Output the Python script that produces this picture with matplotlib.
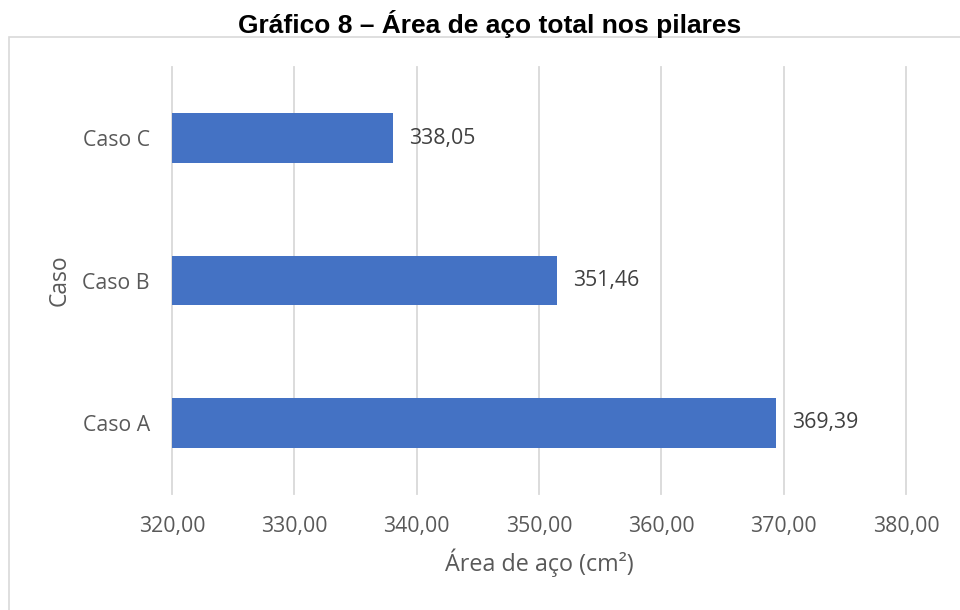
import matplotlib.pyplot as plt
from matplotlib.patches import Rectangle

casos = ["Caso A", "Caso B", "Caso C"]
area_aco = [369.39, 351.46, 338.05]
rotulos = ["369,39", "351,46", "338,05"]
xticks = [320, 330, 340, 350, 360, 370, 380]
xtick_labels = ["320,00", "330,00", "340,00", "350,00", "360,00", "370,00", "380,00"]

plt.rcParams['font.family'] = ['Open Sans', 'DejaVu Sans']
cinza = '#595959'

fig = plt.figure(figsize=(9.6, 6.1), dpi=100)
ax = fig.add_axes([172/960, 1 - 494/610, (906 - 172)/960, (494 - 67)/610])

# moldura do gráfico (cortada à direita e embaixo)
fig.patches.append(Rectangle((9/960, -0.1), 1.2, 1 - 37/610 + 0.1,
                             transform=fig.transFigure, fill=False,
                             edgecolor='#D9D9D9', linewidth=1.2))

ypos = range(len(casos))
ax.barh(ypos, [v - 320 for v in area_aco], left=320, height=0.35,
        color='#4472C4', zorder=3)
for y, v, r in zip(ypos, area_aco, rotulos):
    ax.text(v + 1.3, y, r, va='center', ha='left', fontsize=15.3, color='#404040')

ax.set_xlim(320, 380)
ax.set_ylim(-0.5, 2.5)
ax.set_xticks(xticks)
ax.set_xticklabels(xtick_labels)
ax.set_yticks(list(ypos))
ax.set_yticklabels(casos)
ax.tick_params(axis='both', length=0, labelsize=15.3, labelcolor=cinza)
ax.tick_params(axis='x', pad=16)
ax.tick_params(axis='y', pad=16)
ax.grid(axis='x', color='#D9D9D9', linewidth=1.3, zorder=0, clip_on=False)
for s in ax.spines.values():
    s.set_visible(False)

ax.set_xlabel("Área de aço (cm²)", fontsize=16.8, color=cinza, labelpad=8)
ax.set_ylabel("Caso", fontsize=16.5, color=cinza, labelpad=8)

fig.text(490/960, 1 - 24/610, "Gráfico 8 – Área de aço total nos pilares",
         ha='center', va='center', fontsize=19, fontweight='bold',
         family='Liberation Sans', color='black')

fig.savefig('out.png', dpi=100)
